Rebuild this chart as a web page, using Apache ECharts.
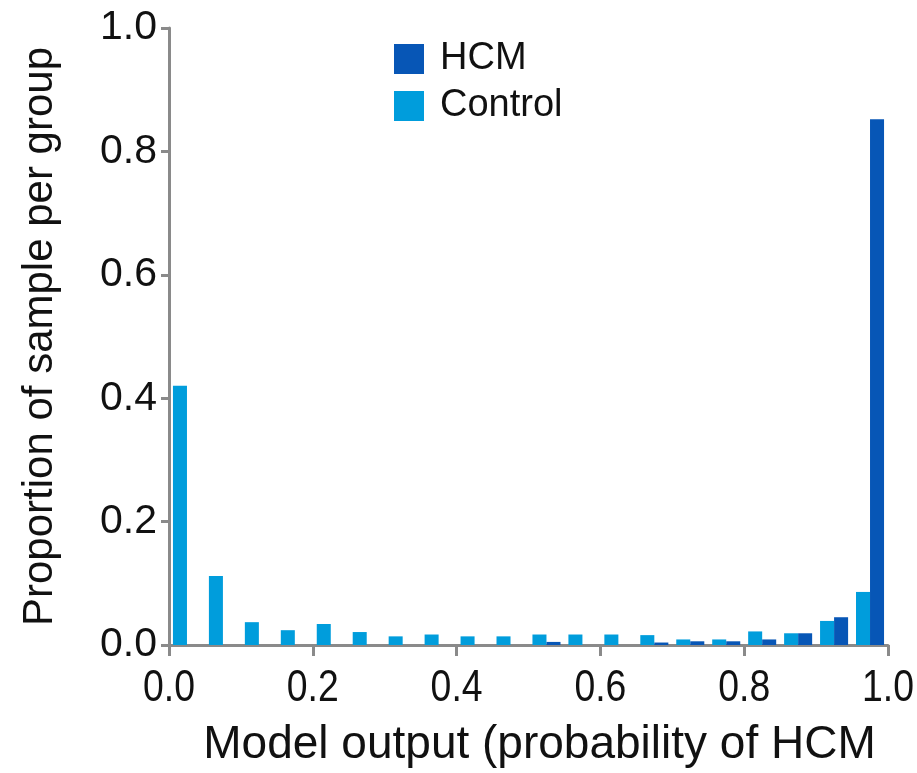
<!DOCTYPE html>
<html>
<head>
<meta charset="utf-8">
<title>Model output histogram</title>
<script src="https://cdn.jsdelivr.net/npm/echarts@6/dist/echarts.min.js"></script>
<style>
  html, body { margin: 0; padding: 0; background: #ffffff; }
  #chart { width: 917px; height: 773px; }
</style>
</head>
<body>
<div id="chart"></div>
<script>
// Histogram bins of width 0.05 over the model output range [0, 1]
const binStarts = ['0.00', '0.05', '0.10', '0.15', '0.20', '0.25', '0.30', '0.35', '0.40', '0.45',
                   '0.50', '0.55', '0.60', '0.65', '0.70', '0.75', '0.80', '0.85', '0.90', '0.95'];

// Proportion of each group falling in each bin
const controlValues = [0.42, 0.112, 0.037, 0.024, 0.034, 0.021, 0.014, 0.017, 0.014, 0.014,
                       0.017, 0.017, 0.017, 0.016, 0.009, 0.009, 0.022, 0.019, 0.039, 0.086];
const hcmValues = [0, 0, 0, 0, 0, 0, 0, 0, 0, 0,
                   0.005, 0, 0, 0.004, 0.006, 0.006, 0.009, 0.019, 0.045, 0.852];

// Tick values for both axes
const xTicks = [0.0, 0.2, 0.4, 0.6, 0.8, 1.0];
const yTicks = [0.0, 0.2, 0.4, 0.6, 0.8, 1.0];

const AXIS_GRAY = '#8a8a8a';
const HCM_BLUE = '#0756b6';
const CONTROL_BLUE = '#009ddc';
const FONT = 'Liberation Sans, Arial, sans-serif';

const chart = echarts.init(document.getElementById('chart'), null, { renderer: 'canvas' });

const option = {
  backgroundColor: '#ffffff',
  animation: false,
  textStyle: { fontFamily: FONT, color: '#111' },
  grid: { left: 169, right: 29, top: 28, bottom: 127, containLabel: false },
  legend: {
    data: ['HCM', 'Control'],
    orient: 'vertical',
    left: 394,
    top: 40,
    padding: 0,
    itemWidth: 30,
    itemHeight: 30,
    itemGap: 9,
    icon: 'rect',
    textStyle: { fontSize: 38, color: '#111', padding: [0, 0, 0, 11] }
  },
  xAxis: [
    {
      // bin axis that carries the bars
      type: 'category',
      data: binStarts,
      boundaryGap: true,
      axisLine: { show: false },
      axisTick: { show: false },
      axisLabel: { show: false },
      splitLine: { show: false }
    },
    {
      // continuous axis with the probability ticks; its labels are drawn
      // below as slightly condensed text
      type: 'value',
      position: 'bottom',
      min: xTicks[0],
      max: xTicks[xTicks.length - 1],
      interval: 0.2,
      axisLine: { show: true, lineStyle: { color: AXIS_GRAY, width: 3 } },
      axisTick: { show: true, length: 11, lineStyle: { color: AXIS_GRAY, width: 3 } },
      axisLabel: { show: false },
      splitLine: { show: false },
      name: 'Model output (probability of HCM',
      nameLocation: 'middle',
      nameGap: 77,
      nameTextStyle: { fontSize: 46, color: '#111', padding: [0, 0, 0, 22] }
    }
  ],
  yAxis: {
    type: 'value',
    min: yTicks[0],
    max: yTicks[yTicks.length - 1],
    interval: 0.2,
    axisLine: { show: true, lineStyle: { color: AXIS_GRAY, width: 3 } },
    axisTick: { show: true, length: 8, lineStyle: { color: AXIS_GRAY, width: 3 } },
    axisLabel: {
      margin: 12,
      fontSize: 41,
      color: '#111',
      formatter: v => v.toFixed(1)
    },
    splitLine: { show: false },
    name: 'Proportion of sample per group',
    nameLocation: 'middle',
    nameGap: 108,
    nameTextStyle: { fontSize: 42, color: '#111' }
  },
  series: [
    {
      name: 'Control',
      type: 'bar',
      xAxisIndex: 0,
      data: controlValues,
      itemStyle: { color: CONTROL_BLUE },
      barGap: '0%',
      barCategoryGap: '22%'
    },
    {
      name: 'HCM',
      type: 'bar',
      xAxisIndex: 0,
      data: hcmValues,
      itemStyle: { color: HCM_BLUE },
      barGap: '0%',
      barCategoryGap: '22%'
    }
  ]
};

chart.setOption(option);

// Condensed tick labels under the probability axis, placed via the axis scale
const axisY = chart.convertToPixel({ yAxisIndex: 0 }, 0);
const tickLabels = xTicks.map(v => ({
  type: 'text',
  x: chart.convertToPixel({ xAxisIndex: 1 }, v),
  y: axisY + 22,
  scaleX: 0.85,
  silent: true,
  style: {
    text: v.toFixed(1),
    font: '44px ' + FONT,
    fill: '#111',
    textAlign: 'center',
    textVerticalAlign: 'top'
  }
}));
chart.setOption({ graphic: tickLabels });
</script>
</body>
</html>
